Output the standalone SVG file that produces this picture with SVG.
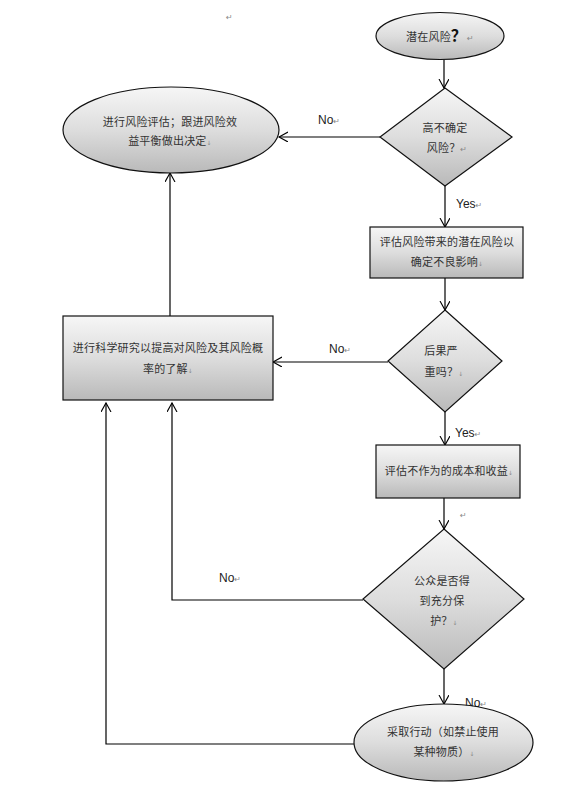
<svg xmlns="http://www.w3.org/2000/svg" width="578" height="786" viewBox="0 0 578 786">
<defs>
<linearGradient id="g" x1="0" y1="0" x2="0" y2="1">
<stop offset="0" stop-color="#f6f6f6"/>
<stop offset="0.5" stop-color="#dddddd"/>
<stop offset="1" stop-color="#b9b9b9"/>
</linearGradient>
<marker id="arr" markerUnits="userSpaceOnUse" markerWidth="12" markerHeight="12" refX="9" refY="5" orient="auto">
<path d="M0,0 L9,5 L0,10" fill="none" stroke="#000" stroke-width="1.1"/>
</marker>
<style>
.shape{fill:url(#g);stroke:#111;stroke-width:1.2}
.c{fill:none;stroke:#000;stroke-width:1.2}
.t{font-family:"Noto Sans CJK SC","Noto Sans",sans-serif;font-size:11px;fill:#333;text-anchor:middle;letter-spacing:0.2px}
.lbl{font-family:"Liberation Sans",Arial,sans-serif;font-size:12px;fill:#222}
.m{font-family:"DejaVu Sans",sans-serif;font-size:8px;fill:#888}
.mm{font-family:"DejaVu Sans",sans-serif;font-size:6px;fill:#888}
</style>
</defs>
<rect width="578" height="786" fill="#fff"/>
<text class="m" x="226" y="20">↵</text>

<g id="connectors">
<line class="c" x1="444" y1="59.5" x2="444" y2="88" marker-end="url(#arr)"/>
<line class="c" x1="380" y1="137" x2="279" y2="137" marker-end="url(#arr)"/>
<line class="c" x1="445" y1="186" x2="445" y2="227" marker-end="url(#arr)"/>
<line class="c" x1="445" y1="278" x2="445" y2="310" marker-end="url(#arr)"/>
<line class="c" x1="388" y1="362" x2="273" y2="362" marker-end="url(#arr)"/>
<line class="c" x1="170" y1="316" x2="170" y2="173" marker-end="url(#arr)"/>
<line class="c" x1="445" y1="412" x2="445" y2="445" marker-end="url(#arr)"/>
<line class="c" x1="444" y1="498" x2="444" y2="529" marker-end="url(#arr)"/>
<polyline class="c" points="363,600 172,600 172,403" marker-end="url(#arr)"/>
<line class="c" x1="444" y1="669" x2="444" y2="704" marker-end="url(#arr)"/>
<polyline class="c" points="354,744 106,744 106,403" marker-end="url(#arr)"/>
<text class="lbl" x="318" y="124">No<tspan class="m">↵</tspan></text>
<text class="lbl" x="456" y="208">Yes<tspan class="m">↵</tspan></text>
<text class="lbl" x="329" y="353">No<tspan class="m">↵</tspan></text>
<text class="lbl" x="455" y="437">Yes<tspan class="m">↵</tspan></text>
<text class="m" x="460" y="518">↵</text>
<text class="lbl" x="219" y="582">No<tspan class="m">↵</tspan></text>
<text class="lbl" x="465" y="707">No<tspan class="m">↵</tspan></text>
</g>

<g id="start">
<ellipse class="shape" cx="440" cy="36" rx="64" ry="23.5"/>
<text class="t" x="440" y="41">潜在风险<tspan font-size="16" font-weight="bold" fill="#111">？</tspan><tspan class="m">↵</tspan></text>
</g>

<g id="d1">
<polygon class="shape" points="445,88 512,137 445,186 380,137"/>
<text class="t" x="445" y="132">高不确定</text>
<text class="t" x="447" y="152">风险？<tspan class="m">↵</tspan></text>
</g>

<g id="assess">
<ellipse class="shape" cx="171" cy="130" rx="108" ry="43"/>
<text class="t" x="170" y="126">进行风险评估；跟进风险效</text>
<text class="t" x="170" y="145">益平衡做出决定<tspan class="mm">↓</tspan></text>
</g>

<g id="r1">
<rect class="shape" x="370" y="227" width="153" height="51"/>
<text class="t" x="447" y="246">评估风险带来的潜在风险以</text>
<text class="t" x="447" y="266">确定不良影响<tspan class="mm">↓</tspan></text>
</g>

<g id="d2">
<polygon class="shape" points="445,310 502,361 445,412 388,361"/>
<text class="t" x="441" y="355">后果严</text>
<text class="t" x="444" y="376">重吗？<tspan class="mm">↓</tspan></text>
</g>

<g id="research">
<rect class="shape" x="63" y="316" width="210" height="84"/>
<text class="t" x="168" y="352">进行科学研究以提高对风险及其风险概</text>
<text class="t" x="168" y="373">率的了解<tspan class="mm">↓</tspan></text>
</g>

<g id="r2">
<rect class="shape" x="376" y="445" width="144" height="53"/>
<text class="t" x="449" y="475">评估不作为的成本和收益<tspan class="mm">↓</tspan></text>
</g>

<g id="d3">
<polygon class="shape" points="444,529 524,599 444,669 363,599"/>
<text class="t" x="442" y="585">公众是否得</text>
<text class="t" x="442" y="605">到充分保</text>
<text class="t" x="444" y="625">护？<tspan class="mm">↓</tspan></text>
</g>

<g id="action">
<ellipse class="shape" cx="443.5" cy="742.5" rx="89.5" ry="38.5"/>
<text class="t" x="443" y="736">采取行动（如禁止使用</text>
<text class="t" x="444" y="756">某种物质）<tspan class="mm">↓</tspan></text>
</g>
</svg>
